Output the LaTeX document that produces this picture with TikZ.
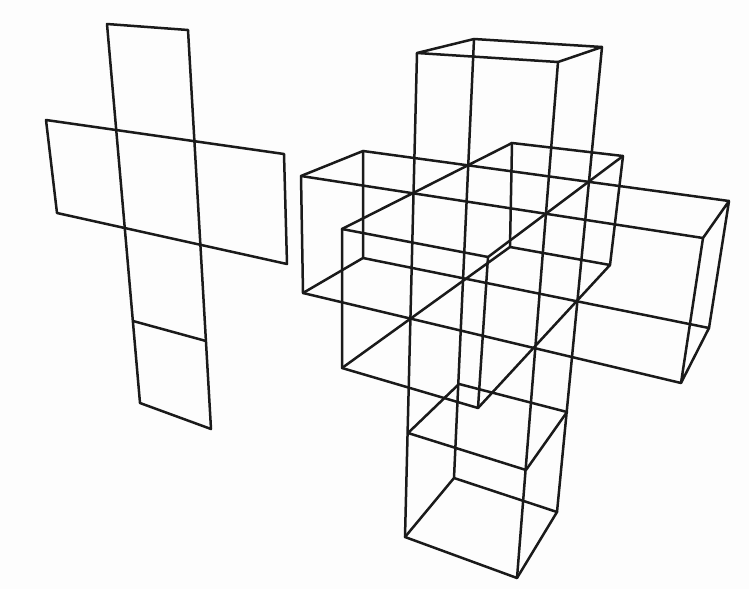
\documentclass[tikz,border=0pt]{standalone}
\definecolor{paper}{HTML}{FDFDFD}
\definecolor{ink}{HTML}{1A1A1A}
\tikzset{wire/.style={draw=ink,line width=2.5pt,line join=round,line cap=round}}
\begin{document}
\begin{tikzpicture}[x=1pt,y=-1pt]
\fill[paper,use as bounding box] (0,0) rectangle (749,589);
% flat net
\coordinate (na) at (107,24); \coordinate (nb) at (188,30);
\coordinate (nc) at (211,429); \coordinate (nd) at (140,403);
\coordinate (he) at (46,120); \coordinate (hf) at (284,154);
\coordinate (hg) at (287,264); \coordinate (hh) at (57,213);
\coordinate (ci) at (133,321); \coordinate (cj) at (206,341);
\draw[wire] (na)--(nb)--(nc)--(nd)--cycle;
\draw[wire] (he)--(hf)--(hg)--(hh)--cycle;
\draw[wire] (ci)--(cj);
% vertical tube
\coordinate (t1) at (417,53); \coordinate (t2) at (474,39);
\coordinate (t3) at (602,47); \coordinate (t4) at (558,62);
\coordinate (b1) at (405,537); \coordinate (b2) at (454,478);
\coordinate (b3) at (557,512); \coordinate (b4) at (517,578);
\coordinate (r1) at (408,433); \coordinate (r2) at (459,384);
\coordinate (r3) at (567,412); \coordinate (r4) at (526,470);
\draw[wire] (t1)--(t2)--(t3)--(t4)--cycle;
\draw[wire] (b1)--(b2)--(b3)--(b4)--cycle;
\draw[wire] (r1)--(r2)--(r3)--(r4)--cycle;
\draw[wire] (t1)--(b1) (t2)--(b2) (t3)--(b3) (t4)--(b4);
% horizontal tube
\coordinate (l1) at (301,176); \coordinate (l2) at (363,151);
\coordinate (l3) at (303,293); \coordinate (l4) at (363,258);
\coordinate (e1) at (703,238); \coordinate (e2) at (729,201);
\coordinate (e3) at (709,328); \coordinate (e4) at (681,383);
\draw[wire] (l1)--(l2)--(l4)--(l3)--cycle;
\draw[wire] (e1)--(e2)--(e3)--(e4)--cycle;
\draw[wire] (l1)--(e1) (l2)--(e2) (l3)--(e4) (l4)--(e3);
% depth tube
\coordinate (f1) at (342,229); \coordinate (f2) at (488,257);
\coordinate (f3) at (478,408); \coordinate (f4) at (342,368);
\coordinate (k1) at (512,143); \coordinate (k2) at (623,156);
\coordinate (k3) at (610,265); \coordinate (k4) at (510,247);
\draw[wire] (f1)--(f2)--(f3)--(f4)--cycle;
\draw[wire] (k1)--(k2)--(k3)--(k4)--cycle;
\draw[wire] (f1)--(k1) (f2)--(k2) (f3)--(k3) (f4)--(k4);
\end{tikzpicture}
\end{document}
